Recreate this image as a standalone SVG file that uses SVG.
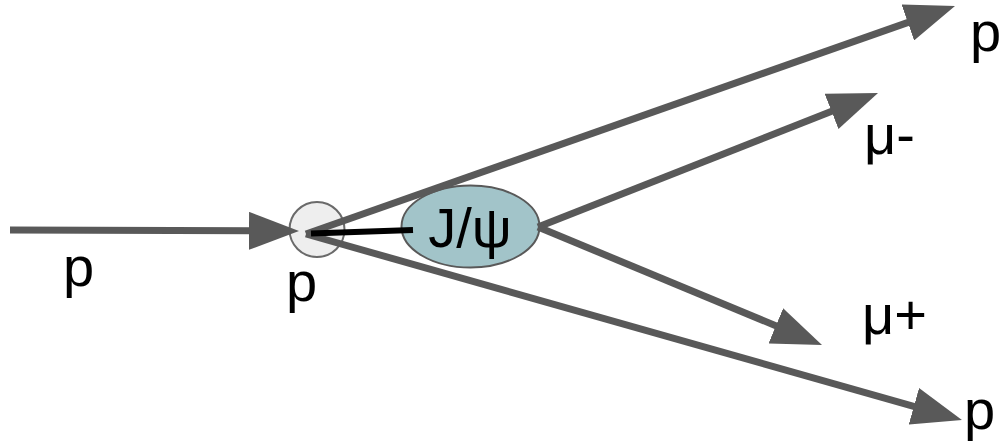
<svg xmlns="http://www.w3.org/2000/svg" width="1008" height="444" viewBox="0 0 1008 444">
  <style>
    .lbl { font-family: "Liberation Sans", Arial, sans-serif; font-size: 56px; fill: #000000; }
    .conn { stroke: #595959; stroke-width: 7; fill: none; marker-end: url(#arr); }
  </style>
  <defs>
    <marker id="arr" markerUnits="userSpaceOnUse" viewBox="0 0 50 38" refX="20" refY="19" markerWidth="50" markerHeight="38" orient="auto">
      <path d="M0,0 L50,19 L0,38 Z" fill="#595959"/>
    </marker>
  </defs>
  <rect width="1008" height="444" fill="#ffffff"/>

  <g id="node-proton-target">
    <circle cx="317" cy="229.5" r="27.5" fill="#eeeeee" stroke="#6a6a6a" stroke-width="2"/>
  </g>
  <g id="node-jpsi">
    <ellipse cx="470.5" cy="226.5" rx="69" ry="41" fill="#a2c4c9" stroke="#595959" stroke-width="2"/>
  </g>

  <g id="connectors">
    <line class="conn" x1="10" y1="230" x2="269" y2="230.9"/>
    <line class="conn" x1="306" y1="234" x2="926.7" y2="15.9"/>
    <line class="conn" x1="306" y1="234" x2="933.1" y2="411.8"/>
    <line class="conn" x1="538" y1="227" x2="850.1" y2="104"/>
    <line class="conn" x1="538" y1="227" x2="794.3" y2="333.5"/>
    <line x1="311" y1="233.5" x2="413" y2="230" stroke="#000000" stroke-width="6"/>
  </g>

  <g id="labels">
    <text class="lbl" x="470" y="247" text-anchor="middle" font-size="58">J/ψ</text>
    <text class="lbl" x="63" y="286">p</text>
    <text class="lbl" x="286" y="301">p</text>
    <text class="lbl" x="970" y="51" font-size="52">p</text>
    <text class="lbl" x="964" y="429">p</text>
    <text class="lbl" x="864" y="154">μ-</text>
    <text class="lbl" x="862" y="334">μ+</text>
  </g>
</svg>
